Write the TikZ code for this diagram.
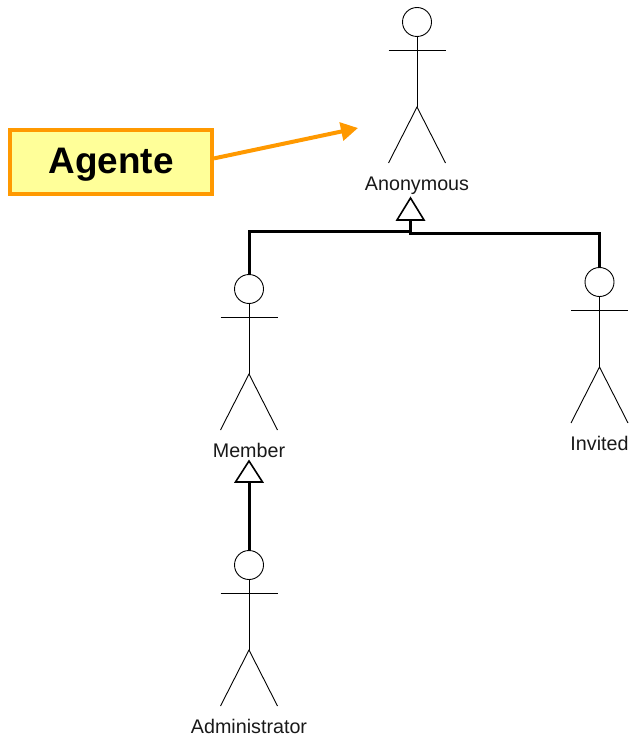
\documentclass[tikz,border=0pt]{standalone}
\usepackage{fontspec}
\setmainfont{Liberation Sans}
\usetikzlibrary{arrows.meta,calc}
\definecolor{agorange}{HTML}{FF9900}
\definecolor{agyellow}{HTML}{FFFF99}
\tikzset{
  x=1pt,y=-1pt,
  stick/.style={draw=black,line width=0.9pt},
  headnode/.style={circle,draw=black,fill=white,line width=0.9pt,minimum size=29pt,inner sep=0pt},
  actorlabel/.style={font=\fontsize{19.7}{22}\selectfont,inner sep=0pt,text=black!90},
  gen/.style={draw=black,line width=3pt},
  tri/.style={draw=black,fill=white,line width=1.6pt,line join=miter},
  agentbox/.style={draw=agorange,fill=agyellow,line width=4pt,minimum width=202pt,minimum height=64pt,inner sep=0pt},
  agenttext/.style={font=\fontsize{36.9}{40}\selectfont\bfseries,inner sep=0pt},
  agentarrow/.style={draw=agorange,line width=4pt,-{Triangle[length=17pt,width=18pt]}}
}
% #1 name, #2 x, #3 head centre y, #4 label text, #5 label y
\newcommand{\stickactor}[5]{%
  \node[headnode] (#1) at (#2,#3) {};
  \coordinate (#1arml) at (#2-28.5,#3+28);
  \coordinate (#1armr) at (#2+28.5,#3+28);
  \coordinate (#1hip) at (#2,#3+85);
  \coordinate (#1footl) at (#2-28.5,#3+141);
  \coordinate (#1footr) at (#2+28.5,#3+141);
  \draw[stick] (#1.south) -- (#1hip);
  \draw[stick] (#1arml) -- (#1armr);
  \draw[stick] (#1footl) -- (#1hip) -- (#1footr);
  \node[actorlabel,anchor=base] (#1label) at (#2,#5) {#4};
}
\begin{document}
\begin{tikzpicture}
\useasboundingbox (0,0) rectangle (631,738);
\stickactor{anon}{417}{22}{Anonymous}{190.8}
\stickactor{member}{249}{289}{Member}{457.8}
\stickactor{invited}{599.5}{282}{Invited}{450.8}
\stickactor{admin}{249}{565}{Administrator}{733.8}
% generalisation connectors
\coordinate (anontri) at (410.5,198);
\coordinate (anonbase) at (410.5,220);
\coordinate (membertri) at (249,461);
\coordinate (memberbase) at (249,482);
\draw[gen] (anonbase) -- (410.5,231) -- (member.north |- 0,231) -- (member.north);
\draw[gen] (410.5,231) -- (410.5,233) -- (invited.north |- 0,233) -- (invited.north);
\draw[gen] (memberbase) -- (admin.north);
\draw[tri] (anontri) -- (424,220) -- (397,220) -- cycle;
\draw[tri] (membertri) -- (262.5,482) -- (235.5,482) -- cycle;
% callout
\node[agentbox] (agente) at (111,162) {};
\node[agenttext,anchor=base] (agentetext) at (111,174) {Agente};
\coordinate (agentetip) at (358,128);
\draw[agentarrow] ($(agente.east)+(0,-3.6)$) -- (agentetip);
\end{tikzpicture}
\end{document}
